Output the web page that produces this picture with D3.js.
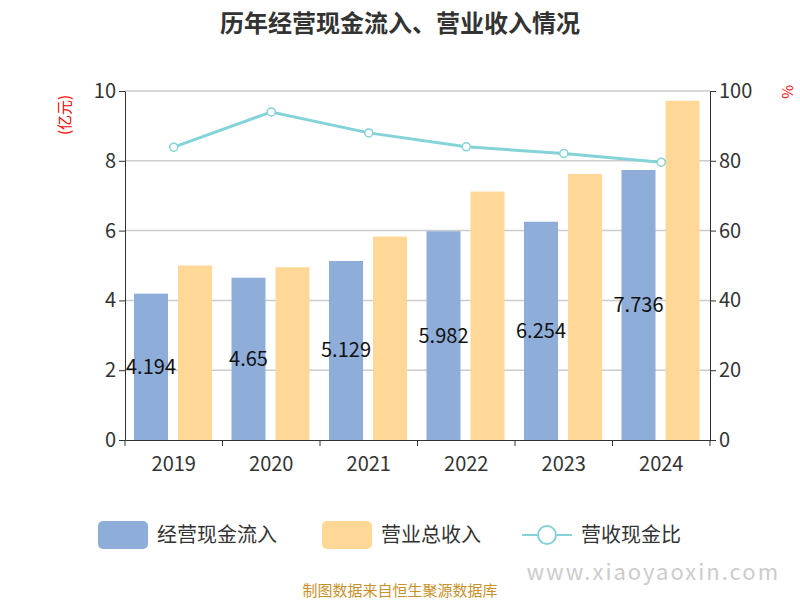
<!DOCTYPE html><html><head><meta charset="utf-8"><script src="https://cdn.jsdelivr.net/npm/d3@7"></script>
<style>body{margin:0;background:#fff}text{font-family:"Noto Sans CJK SC","Noto Sans",sans-serif}</style></head><body>
<svg id="c" width="800" height="600"></svg>
<script>
const years=["2019","2020","2021","2022","2023","2024"];
const cashFlow=[4.194,4.65,5.129,5.982,6.254,7.736];
const revenue=[5.0,4.95,5.83,7.12,7.62,9.72];
const ratio=[83.9,94.0,88.0,84.0,82.1,79.6];
const leftTicks=[0,2,4,6,8,10];
const rightTicks=[0,20,40,60,80,100];
const svg=d3.select("#c");
const L=125,R=710,T=91,B=440;
const x=d3.scaleBand().domain(years).range([L,R]);
const y=d3.scaleLinear().domain([0,10]).range([B,T]);
const y2=d3.scaleLinear().domain([0,100]).range([B,T]);
svg.append("text").attr("x",400).attr("y",32).attr("text-anchor","middle").attr("font-size",24).attr("font-weight","bold").attr("fill","#333").text("历年经营现金流入、营业收入情况");
svg.append("g").selectAll("line").data(leftTicks.slice(1)).join("line").attr("x1",L).attr("x2",R).attr("y1",d=>y(d)).attr("y2",d=>y(d)).attr("stroke","#ccc").attr("stroke-width",1.5);
const bw=34;
svg.append("g").selectAll("rect").data(cashFlow).join("rect").attr("x",(d,i)=>x(years[i])+9).attr("width",bw).attr("y",d=>y(d)).attr("height",d=>B-y(d)).attr("fill","#8eadd9");
svg.append("g").selectAll("rect").data(revenue).join("rect").attr("x",(d,i)=>x(years[i])+53).attr("width",bw).attr("y",d=>y(d)).attr("height",d=>B-y(d)).attr("fill","#ffd897");
svg.append("g").selectAll("text").data(cashFlow).join("text").attr("x",(d,i)=>x(years[i])+26).attr("y",d=>(y(d)+B)/2+7).attr("text-anchor","middle").attr("font-size",20).attr("fill","#111").text(d=>d);
const line=d3.line().x((d,i)=>x(years[i])+x.bandwidth()/2).y(d=>y2(d));
svg.append("path").attr("d",line(ratio)).attr("fill","none").attr("stroke","#83d3d8").attr("stroke-width",3);
svg.append("g").selectAll("circle").data(ratio).join("circle").attr("cx",(d,i)=>x(years[i])+x.bandwidth()/2).attr("cy",d=>y2(d)).attr("r",4).attr("fill","#fff").attr("stroke","#83d3d8").attr("stroke-width",1.5);
const ax=svg.append("g").attr("transform",`translate(0,${B})`).call(d3.axisBottom(x).tickSize(6).tickSizeOuter(0));
ax.selectAll("text").attr("font-size",20).attr("fill","#333").attr("dy","1.1em");
ax.selectAll("line,path").attr("stroke","#333");
ax.selectAll(".tick line").attr("transform",`translate(${-x.bandwidth()/2},0)`);
ax.append("line").attr("x1",R).attr("x2",R).attr("y1",0).attr("y2",6).attr("stroke","#333");
const al=svg.append("g").attr("transform",`translate(${L},0)`).call(d3.axisLeft(y).tickValues(leftTicks).tickSize(6).tickSizeOuter(0));
al.selectAll("text").attr("font-size",20).attr("fill","#333");al.selectAll("line,path").attr("stroke","#333");
const ar=svg.append("g").attr("transform",`translate(${R},0)`).call(d3.axisRight(y2).tickValues(rightTicks).tickSize(6).tickSizeOuter(0));
ar.selectAll("text").attr("font-size",20).attr("fill","#333");ar.selectAll("line,path").attr("stroke","#333");
svg.append("text").attr("transform","translate(70,115) rotate(-90)").attr("text-anchor","middle").attr("font-size",15).attr("fill","red").text("(亿元)");
svg.append("text").attr("transform","translate(782,92) rotate(90)").attr("text-anchor","middle").attr("font-size",15).attr("fill","red").text("%");
const lg=svg.append("g").attr("font-size",20).attr("fill","#333");
lg.append("rect").attr("x",98).attr("y",521).attr("width",50).attr("height",28).attr("rx",5).attr("fill","#8eadd9");
lg.append("text").attr("x",157).attr("y",542).text("经营现金流入");
lg.append("rect").attr("x",322).attr("y",521).attr("width",50).attr("height",28).attr("rx",5).attr("fill","#ffd897");
lg.append("text").attr("x",381).attr("y",542).text("营业总收入");
lg.append("line").attr("x1",522).attr("x2",572).attr("y1",535).attr("y2",535).attr("stroke","#83d3d8").attr("stroke-width",2);
lg.append("circle").attr("cx",547).attr("cy",535).attr("r",9).attr("fill","#fff").attr("stroke","#83d3d8").attr("stroke-width",2);
lg.append("text").attr("x",581).attr("y",542).text("营收现金比");
svg.append("text").attr("x",400).attr("y",596).attr("text-anchor","middle").attr("font-size",15).attr("fill","#c8922a").text("制图数据来自恒生聚源数据库");
svg.append("text").attr("x",780).attr("y",580).attr("text-anchor","end").attr("font-size",22).attr("fill","#ccc").attr("letter-spacing",2).text("www.xiaoyaoxin.com");
</script></body></html>
